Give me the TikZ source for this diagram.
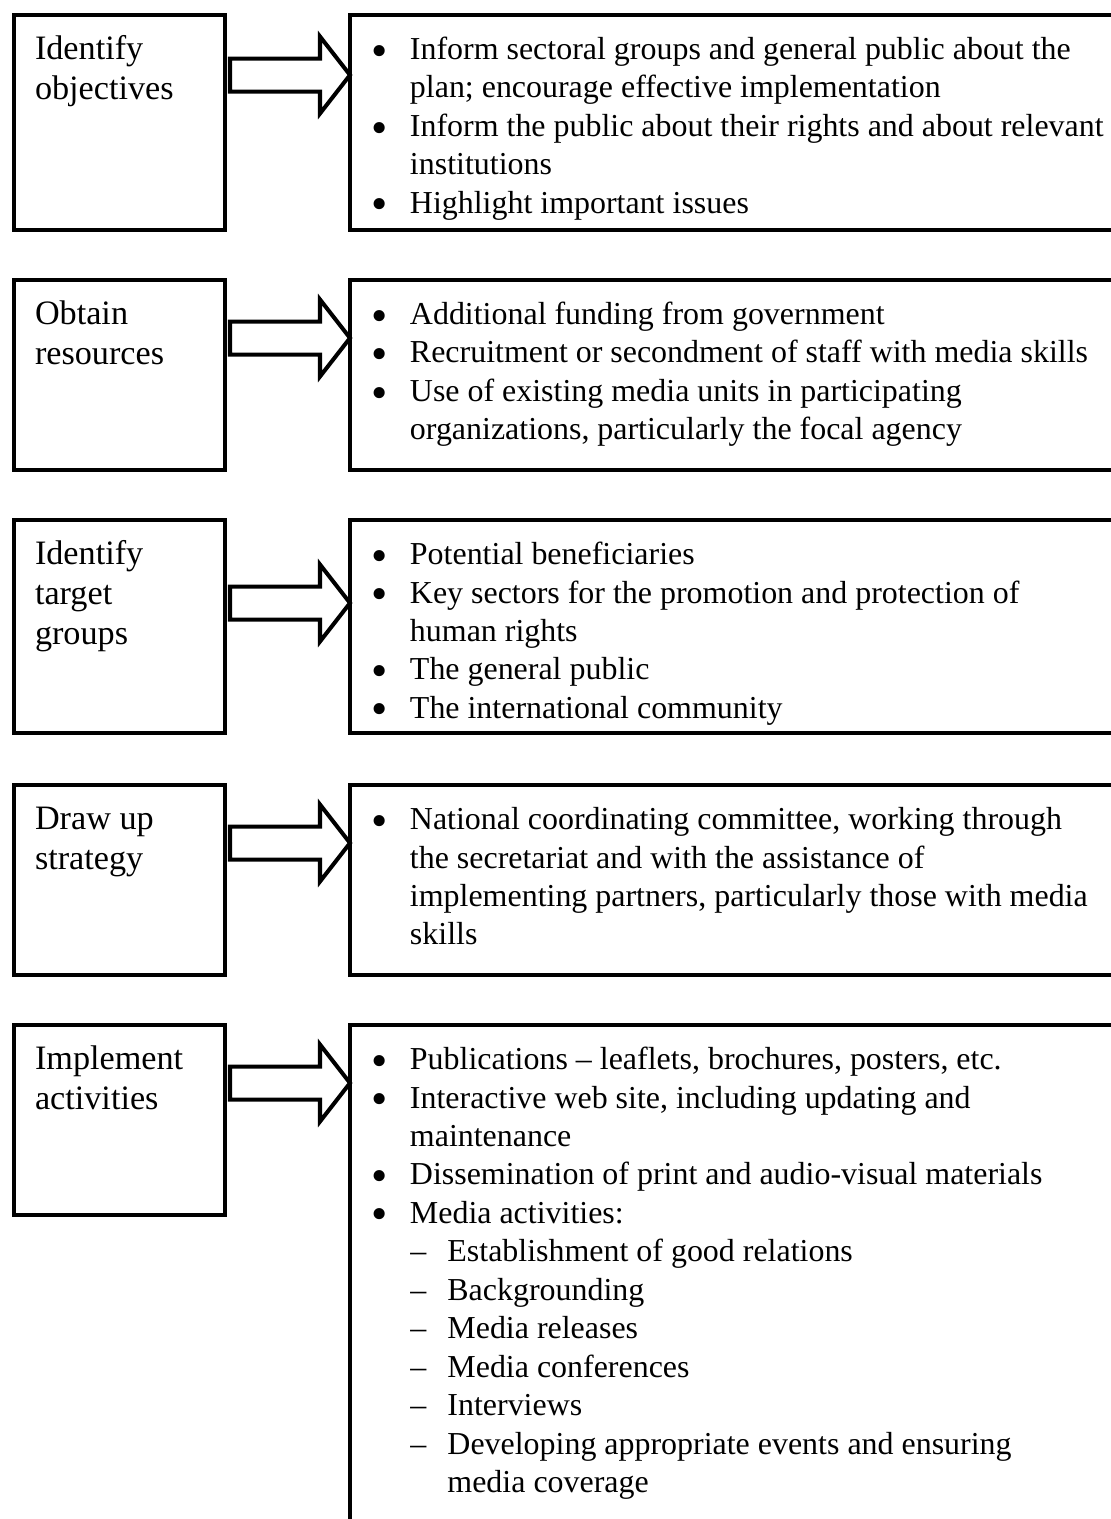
\documentclass[tikz,border=0pt]{standalone}
\usepackage{fontspec}
\setmainfont{Liberation Serif}
\usepackage{tikz}
\usetikzlibrary{calc}
\newlength{\pxu}
\setlength{\pxu}{0.3976pt}
\newcommand{\bl}{\strut\makebox[15.3pt][l]{\raisebox{-2.6pt}{\fontsize{18.5}{0}\selectfont\textbullet}}}
\newcommand{\cl}{\hspace*{15.3pt}}
\newcommand{\dl}{\hspace*{15.5pt}\makebox[14.7pt][l]{--}}
\newcommand{\dcl}{\hspace*{30.2pt}}
\newcommand{\blockarrow}[3]{%
  \draw[blockarrow] ($(#1.north east)+(5,#3-16.5)$) -- ($(#2.north west)+(-30,#3-16.5)$)
    -- ++(0,-22) -- ($(#2.north west)+(0,#3)$) -- ($(#2.north west)+(-30,#3+38.5)$)
    -- ++(0,-22) -- ($(#1.north east)+(5,#3+16.5)$) -- cycle;}

\begin{document}
\begin{tikzpicture}[x=\pxu, y=-\pxu,
    leftbox/.style={draw, line width=1.6pt, outer sep=0pt, inner sep=0pt, anchor=north west, minimum width=211\pxu},
    rightbox/.style={leftbox, minimum width=800\pxu},
    lefttext/.style={anchor=north west, yshift=11.13pt, align=left, inner sep=0pt,
        font=\fontsize{13.6}{15.9}\selectfont},
    righttext/.style={anchor=north west, yshift=10.71pt, align=left, inner sep=0pt,
        font=\fontsize{12.7}{15.3}\selectfont},
    blockarrow/.style={draw, line width=1.6pt, fill=white, line join=miter}]
    \clip (0,0) rectangle (1111,1519);

    % Objectives
    \node[leftbox, minimum height=215\pxu] (objbox) at (14,15) {};
    \node[rightbox, minimum height=215\pxu] (objlist) at (350,15) {};
    \node[lefttext] (objtxt) at (34.5,59) {\strut Identify\\objectives};
    \node[righttext] (objitems) at (371,59) {\bl Inform sectoral groups and general public about the\\
        \cl plan; encourage effective implementation\\
        \bl Inform the public about their rights and about relevant\\
        \cl institutions\\
        \bl Highlight important issues};
    \blockarrow{objbox}{objlist}{60}

    % Resources
    \node[leftbox, minimum height=190\pxu] (resbox) at (14,280) {};
    \node[rightbox, minimum height=190\pxu] (reslist) at (350,280) {};
    \node[lefttext] (restxt) at (34.5,324) {\strut Obtain\\resources};
    \node[righttext] (resitems) at (371,324) {\bl Additional funding from government\\
        \bl Recruitment or secondment of staff with media skills\\
        \bl Use of existing media units in participating\\
        \cl organizations, particularly the focal agency};
    \blockarrow{resbox}{reslist}{58}

    % Target groups
    \node[leftbox, minimum height=213\pxu] (tgtbox) at (14,520) {};
    \node[rightbox, minimum height=213\pxu] (tgtlist) at (350,520) {};
    \node[lefttext] (tgttxt) at (34.5,564) {\strut Identify\\target\\groups};
    \node[righttext] (tgtitems) at (371,564) {\bl Potential beneficiaries\\
        \bl Key sectors for the promotion and protection of\\
        \cl human rights\\
        \bl The general public\\
        \bl The international community};
    \blockarrow{tgtbox}{tgtlist}{83}

    % Strategy
    \node[leftbox, minimum height=190\pxu] (strbox) at (14,785) {};
    \node[rightbox, minimum height=190\pxu] (strlist) at (350,785) {};
    \node[lefttext] (strtxt) at (34.5,829) {\strut Draw up\\strategy};
    \node[righttext] (stritems) at (371,829) {\bl National coordinating committee, working through\\
        \cl the secretariat and with the assistance of\\
        \cl implementing partners, particularly those with media\\
        \cl skills};
    \blockarrow{strbox}{strlist}{58}

    % Activities
    \node[leftbox, minimum height=190\pxu] (actbox) at (14,1025) {};
    \node[rightbox, minimum height=560\pxu] (actlist) at (350,1025) {};
    \node[lefttext] (acttxt) at (34.5,1069) {\strut Implement\\activities};
    \node[righttext] (actitems) at (371,1069) {\bl Publications -- leaflets, brochures, posters, etc.\\
        \bl Interactive web site, including updating and\\
        \cl maintenance\\
        \bl Dissemination of print and audio-visual materials\\
        \bl Media activities:\\
        \dl Establishment of good relations\\
        \dl Backgrounding\\
        \dl Media releases\\
        \dl Media conferences\\
        \dl Interviews\\
        \dl Developing appropriate events and ensuring\\
        \dcl media coverage};
    \blockarrow{actbox}{actlist}{58}
\end{tikzpicture}
\end{document}
